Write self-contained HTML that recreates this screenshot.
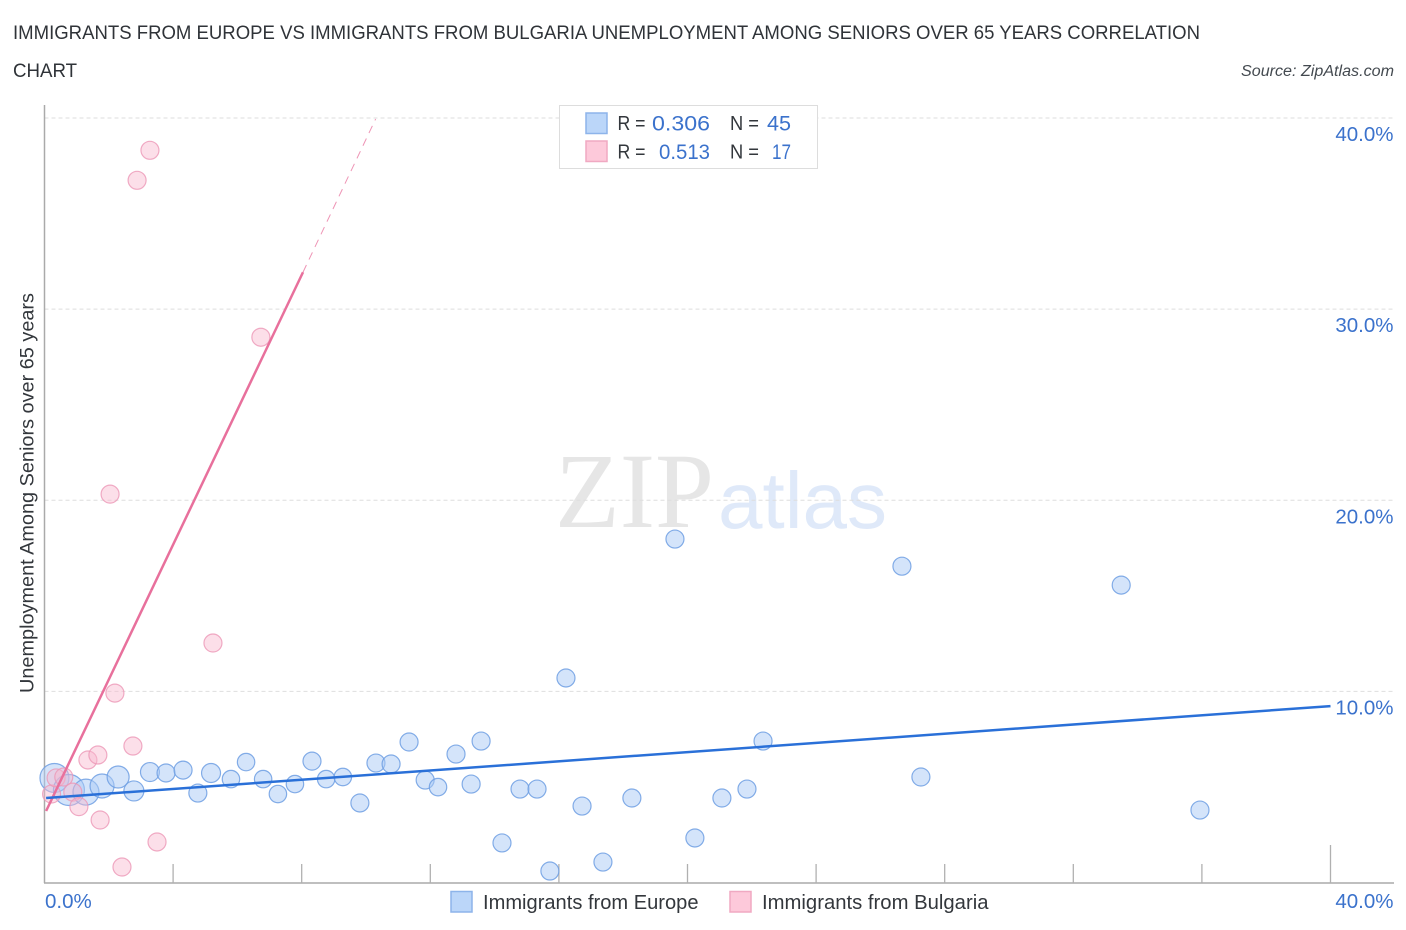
<!DOCTYPE html>
<html lang="en">
<head>
<meta charset="utf-8">
<title>Immigrants from Europe vs Immigrants from Bulgaria Unemployment Among Seniors Correlation Chart</title>
<style>
html,body{margin:0;padding:0;background:#fff;}
svg{display:block;font-family:"Liberation Sans",sans-serif;}
</style>
</head>
<body>
<svg id="chart" width="1406" height="930" viewBox="0 0 1406 930" xmlns="http://www.w3.org/2000/svg">
  <rect x="0" y="0" width="1406" height="930" fill="#ffffff"/>
  <text x="13" y="39" font-size="19.5" fill="#2f3338" textLength="1187" lengthAdjust="spacingAndGlyphs">IMMIGRANTS FROM EUROPE VS IMMIGRANTS FROM BULGARIA UNEMPLOYMENT AMONG SENIORS OVER 65 YEARS CORRELATION</text>
  <text x="13" y="77" font-size="19.5" fill="#2f3338" textLength="64" lengthAdjust="spacingAndGlyphs">CHART</text>
  <text x="1241" y="76" font-size="15.5" font-style="italic" fill="#444a50" textLength="153" lengthAdjust="spacingAndGlyphs">Source: ZipAtlas.com</text>

  <g>
    <text x="555" y="527" font-family="'Liberation Serif',serif" font-size="107" fill="#e6e6e6" textLength="159" lengthAdjust="spacingAndGlyphs">ZIP</text>
    <text x="718" y="528" font-size="80" fill="#dfe9f9" textLength="169" lengthAdjust="spacingAndGlyphs">atlas</text>
  </g>

  <g id="grid"></g>
  <g id="axes"></g>
  <text transform="translate(33.5,693) rotate(-90)" x="0" y="0" font-size="19.5" fill="#33373c" textLength="400" lengthAdjust="spacingAndGlyphs">Unemployment Among Seniors over 65 years</text>
  <g id="europe-points"></g>
  <g id="bulgaria-points"></g>
  <g id="trends"></g>

  <g>
    <rect x="559.5" y="105.5" width="258" height="63" fill="#ffffff" stroke="#dddddd" stroke-width="1"/>
    <rect x="586" y="113" width="21" height="20.5" fill="#bbd6f9" stroke="#8db4ea" stroke-width="1.5"/>
    <rect x="586" y="141" width="21" height="20.5" fill="#fdc9da" stroke="#f0a9c2" stroke-width="1.5"/>
    <text x="617.5" y="130" font-size="20" fill="#33373c" textLength="28" lengthAdjust="spacingAndGlyphs">R =</text>
    <text x="652" y="130.500" font-size="21.5" fill="#3b72cc" textLength="58" lengthAdjust="spacingAndGlyphs">0.306</text>
    <text x="730" y="130" font-size="20" fill="#33373c" textLength="29" lengthAdjust="spacingAndGlyphs">N =</text>
    <text x="767" y="130.500" font-size="21.5" fill="#3b72cc" textLength="24" lengthAdjust="spacingAndGlyphs">45</text>
    <text x="617.5" y="158.500" font-size="20" fill="#33373c" textLength="28" lengthAdjust="spacingAndGlyphs">R =</text>
    <text x="659" y="159" font-size="21.5" fill="#3b72cc" textLength="51" lengthAdjust="spacingAndGlyphs">0.513</text>
    <text x="730" y="158.500" font-size="20" fill="#33373c" textLength="29" lengthAdjust="spacingAndGlyphs">N =</text>
    <text x="772" y="159" font-size="21.5" fill="#3b72cc" textLength="19" lengthAdjust="spacingAndGlyphs">17</text>
  </g>

  <g>
    <g>
      <rect x="451" y="891.500" width="21" height="20.5" fill="#bbd6f9" stroke="#8db4ea" stroke-width="1.5"/>
      <text x="483" y="909" font-size="20" fill="#33373c" textLength="215.500" lengthAdjust="spacingAndGlyphs">Immigrants from Europe</text>
    </g>
    <g>
      <rect x="730" y="891.500" width="21" height="20.5" fill="#fdc9da" stroke="#f0a9c2" stroke-width="1.5"/>
      <text x="762" y="909" font-size="20" fill="#33373c" textLength="226.500" lengthAdjust="spacingAndGlyphs">Immigrants from Bulgaria</text>
    </g>
  </g>
</svg>

<script>
// ---- chart data ----
const yTickValues = [10, 20, 30, 40];
const yTickLabels = ["10.0%", "20.0%", "30.0%", "40.0%"];
const xTickValues = [4, 8, 12, 16, 20, 24, 28, 32, 36, 40];
const xEndLabels = ["0.0%", "40.0%"];

const europeX = [0.31,0.76,1.29,1.79,2.29,2.78,3.28,3.78,4.31,4.77,5.18,5.80,6.27,6.80,7.26,7.79,8.32,8.76,9.28,9.81,10.31,10.78,11.34,11.84,12.24,12.80,13.27,13.58,14.23,14.79,15.32,15.72,16.22,16.72,17.37,18.27,19.61,20.23,21.07,21.85,22.35,26.67,27.26,33.49,35.94];
const europeY = [5.47,4.84,4.73,5.05,5.52,4.79,5.78,5.73,5.88,4.68,5.73,5.41,6.30,5.41,4.63,5.15,6.35,5.41,5.52,4.16,6.25,6.20,7.35,5.36,4.99,6.72,5.15,7.40,2.07,4.89,4.89,0.60,10.70,4.00,1.07,4.42,17.97,2.33,4.42,4.89,7.40,16.55,5.52,15.56,3.79];
const europeWeight = [210,240,169,144,121,100,90,81,81,81,90,76,76,76,76,76,81,76,76,81,81,81,81,81,76,81,81,81,81,81,81,81,81,81,81,81,81,81,81,81,81,81,81,81,81];

const bulgariaX = [0.22,0.36,0.60,0.88,1.07,1.35,1.66,1.73,2.04,2.19,2.41,2.75,2.88,3.28,3.50,5.24,6.73];
const bulgariaY = [4.63,5.47,5.52,4.73,3.97,6.41,6.67,3.27,20.32,9.91,0.81,7.14,36.74,38.31,2.12,12.53,28.53];
const bulgariaWeight = [81,81,81,81,81,81,81,81,81,81,81,81,81,81,81,81,81];

const europeTrendX = [0.05, 40];
const europeTrendY = [4.42, 9.23];
const bulgariaTrendX = [0.05, 8.04];
const bulgariaTrendY = [3.74, 31.93];
const bulgariaDashX = [8.04, 10.3];
const bulgariaDashY = [31.93, 39.95];

// ---- axis functions ----
const PLOT_LEFT = 44.5, PLOT_RIGHT = 1330.5, PLOT_BOTTOM = 882.5, PLOT_TOP = 118;
const xScale = v => PLOT_LEFT + (v / 40) * (PLOT_RIGHT - PLOT_LEFT);
const yScale = v => PLOT_BOTTOM - (v / 40) * (PLOT_BOTTOM - PLOT_TOP);
const rScale = w => Math.sqrt(w);

const NS = "http://www.w3.org/2000/svg";
function make(parent, tag, attrs, text) {
  const el = document.createElementNS(NS, tag);
  for (const k in attrs) el.setAttribute(k, attrs[k]);
  if (text !== undefined) el.textContent = text;
  parent.appendChild(el);
  return el;
}

const grid = document.getElementById("grid");
const axes = document.getElementById("axes");

yTickValues.forEach((v, i) => {
  const y = yScale(v);
  const line = make(grid, "line", {x1: PLOT_LEFT, x2: 1393, y1: y, y2: y, stroke: "#dedede", "stroke-width": 1, "stroke-dasharray": "4 3"});
  
  
  const label = make(axes, "text", {x: 1393.5, y: y + 23, "text-anchor": "end", "font-size": 20.5, fill: "#3b72cc"}, yTickLabels[i]);
  
  
});

const yAxis = make(axes, "line", {x1: PLOT_LEFT, x2: PLOT_LEFT, y1: 105, y2: 883, stroke: "#aaaaaa", "stroke-width": 1.5});


const xAxis = make(axes, "line", {x1: 44, x2: 1394, y1: 883, y2: 883, stroke: "#aaaaaa", "stroke-width": 1.5});



xTickValues.forEach(v => {
  const x = xScale(v);
  const isEnd = v === 40;
  const tick = make(axes, "line", {x1: x, x2: x, y1: isEnd ? 845 : 864, y2: 883, stroke: "#b0b0b0", "stroke-width": 1.3});
  
  
});

const xLabelStart = make(axes, "text", {x: 45, y: 908, "font-size": 20.5, fill: "#3b72cc"}, xEndLabels[0]);


const xLabelEnd = make(axes, "text", {x: 1393.5, y: 908, "text-anchor": "end", "font-size": 20.5, fill: "#3b72cc"}, xEndLabels[1]);



const europeGroup = document.getElementById("europe-points");
europeX.forEach((v, i) => {
  const c = make(europeGroup, "circle", {cx: xScale(v), cy: yScale(europeY[i]), r: rScale(europeWeight[i]), fill: "#a9c9f5", "fill-opacity": 0.5, stroke: "#6f9fe3", "stroke-opacity": 0.85, "stroke-width": 1.2});
  
  
});

const bulgariaGroup = document.getElementById("bulgaria-points");
bulgariaX.forEach((v, i) => {
  const c = make(bulgariaGroup, "circle", {cx: xScale(v), cy: yScale(bulgariaY[i]), r: rScale(bulgariaWeight[i]), fill: "#f9b9cf", "fill-opacity": 0.45, stroke: "#ec97b6", "stroke-opacity": 0.8, "stroke-width": 1.2});
  
  
});

const trends = document.getElementById("trends");
const bulgariaDash = make(trends, "line", {x1: xScale(bulgariaDashX[0]), y1: yScale(bulgariaDashY[0]), x2: xScale(bulgariaDashX[1]), y2: yScale(bulgariaDashY[1]), stroke: "#e8709c", "stroke-width": 1, "stroke-dasharray": "8 6", "stroke-opacity": 0.75});


const bulgariaTrend = make(trends, "line", {x1: xScale(bulgariaTrendX[0]), y1: yScale(bulgariaTrendY[0]), x2: xScale(bulgariaTrendX[1]), y2: yScale(bulgariaTrendY[1]), stroke: "#e8709c", "stroke-width": 2.5});


const europeTrend = make(trends, "line", {x1: xScale(europeTrendX[0]), y1: yScale(europeTrendY[0]), x2: xScale(europeTrendX[1]), y2: yScale(europeTrendY[1]), stroke: "#2a70d8", "stroke-width": 2.5});


</script>
</body>
</html>
